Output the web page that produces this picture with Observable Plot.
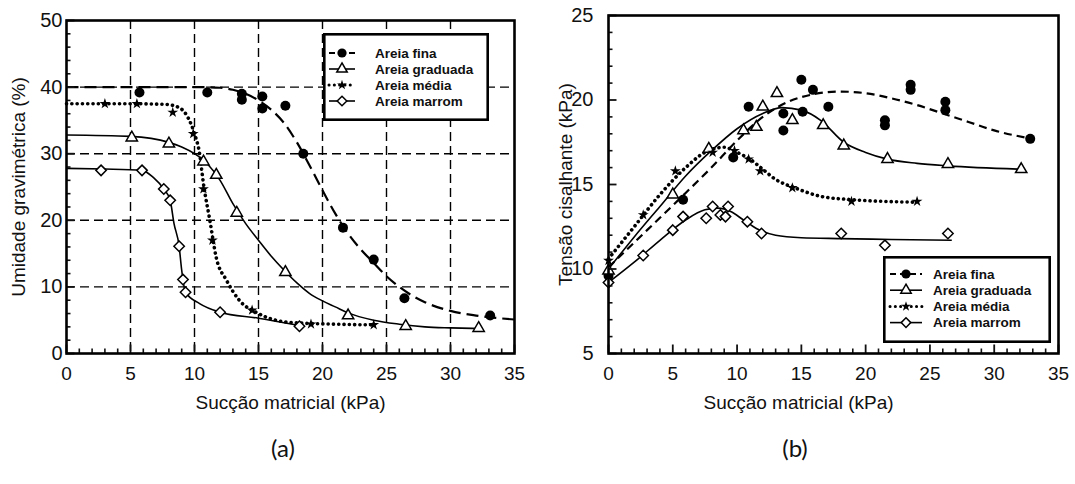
<!DOCTYPE html>
<html>
<head>
<meta charset="utf-8">
<script src="https://cdn.jsdelivr.net/npm/d3@7"></script>
<script src="https://cdn.jsdelivr.net/npm/@observablehq/plot@0.6"></script>
<style>
  body { margin: 0; background: #fff; }
  #wrap { position: relative; width: 1075px; height: 484px; overflow: hidden; background: #fff; }
  .panel { position: absolute; top: 0; }
  .cap { position: absolute; top: 433px; width: 60px; text-align: center; font-family: Lato, "Open Sans", sans-serif; font-size: 24px; color: #111; }
</style>
</head>
<body>
<div id="wrap">
  <div id="pa" class="panel" style="left:0px"></div>
  <div id="pb" class="panel" style="left:537px"></div>
  <div class="cap" style="left:253px">(a)</div>
  <div class="cap" style="left:765px">(b)</div>
</div>
<script>
// ---------------- data ----------------
const names = ["Areia fina", "Areia graduada", "Areia média", "Areia marrom"];
const xTicks = [0, 5, 10, 15, 20, 25, 30, 35];
const xMinor = [1,2,3,4,6,7,8,9,11,12,13,14,16,17,18,19,21,22,23,24,26,27,28,29,31,32,33,34];
const gridXA = [5, 10, 15, 20, 25, 30];
const yTicksA = [0, 10, 20, 30, 40, 50];
const yMinorA = [2,4,6,8,12,14,16,18,22,24,26,28,32,34,36,38,42,44,46,48];
const gridYA = [10, 20, 30, 40];
const yTicksB = [5, 10, 15, 20, 25];
const yMinorB = [6,7,8,9,11,12,13,14,16,17,18,19,21,22,23,24];

// Panel (a): Umidade gravimétrica (%) vs Sucção matricial (kPa)
const aFinaX = [5.7, 11.0, 13.7, 13.7, 15.3, 15.3, 17.1, 18.5, 21.6, 24.0, 26.4, 33.1];
const aFinaY = [39.2, 39.2, 39.0, 38.1, 38.6, 36.8, 37.2, 30.0, 18.9, 14.1, 8.3, 5.7];
const aFinaCurveX = [0, 5, 10, 12, 13, 14, 15, 16, 17, 18, 19, 20, 21, 22, 23, 24, 25, 26, 27, 28, 30, 32, 35];
const aFinaCurveY = [40, 40, 40, 39.9, 39.6, 39.0, 38.0, 36.6, 34.6, 31.7, 28.2, 24.5, 21.0, 18.0, 15.6, 13.6, 11.6, 10.0, 8.7, 7.7, 6.4, 5.7, 5.1];

const aGradX = [5.1, 8.0, 10.7, 11.7, 13.3, 17.1, 22.0, 26.5, 32.2];
const aGradY = [32.4, 31.5, 28.8, 26.8, 21.1, 12.2, 5.7, 4.1, 3.8];
const aGradCurveX = [0, 5, 8, 9, 10, 11, 12, 13, 14, 15, 16, 17, 18, 19, 20, 21, 22, 24, 26, 28, 30, 32.2];
const aGradCurveY = [32.8, 32.6, 31.7, 31.0, 30.0, 28.5, 26.0, 22.5, 19.5, 17.0, 14.6, 12.5, 10.6, 9.0, 7.9, 7.0, 6.1, 5.0, 4.4, 4.0, 3.85, 3.75];

const aMediaX = [3.0, 5.5, 8.3, 9.9, 10.7, 11.4, 14.5, 19.1, 24.0];
const aMediaY = [37.5, 37.5, 36.2, 33.0, 24.7, 17.0, 6.5, 4.4, 4.3];
const aMediaCurveX = [0, 5, 7.8, 8.9, 9.5, 10.0, 10.4, 10.7, 11.2, 11.7, 12.5, 13.5, 15, 17.3, 21, 24];
const aMediaCurveY = [37.5, 37.5, 37.4, 36.8, 35.4, 33.0, 30.0, 25.5, 20.0, 14.4, 11.0, 8.0, 6.0, 4.7, 4.4, 4.3];

const aMarromX = [2.7, 5.9, 7.6, 8.1, 8.8, 9.1, 9.3, 12.0, 18.2];
const aMarromY = [27.5, 27.5, 24.7, 23.0, 16.1, 11.1, 9.2, 6.2, 4.1];
const aMarromCurveX = [0, 3, 5.9, 6.8, 7.6, 8.1, 8.4, 8.8, 9.0, 9.3, 10.4, 12, 15, 18.2];
const aMarromCurveY = [27.8, 27.7, 27.5, 26.4, 24.7, 23.0, 19.5, 16.1, 12.5, 9.2, 7.5, 6.2, 5.3, 4.2];

// Panel (b): Tensão cisalhante (kPa) vs Sucção matricial (kPa)
const bFinaX = [0, 5.8, 9.7, 10.9, 13.6, 13.6, 15.0, 15.1, 15.9, 17.1, 21.5, 21.5, 23.5, 23.5, 26.2, 26.2, 32.8];
const bFinaY = [9.6, 14.1, 16.6, 19.6, 19.2, 18.2, 21.2, 19.3, 20.6, 19.6, 18.8, 18.5, 20.9, 20.6, 19.9, 19.4, 17.7];
const bFinaCurveX = [0, 3, 6, 8, 10, 12, 14, 16, 18, 20, 22, 24, 26, 28, 30, 33];
const bFinaCurveY = [10.1, 12.3, 14.5, 16.0, 17.6, 19.0, 19.9, 20.35, 20.5, 20.4, 20.1, 19.7, 19.2, 18.7, 18.2, 17.7];

const bGradX = [0, 5.0, 7.8, 10.5, 11.5, 12.0, 13.1, 14.3, 16.7, 18.3, 21.7, 26.4, 32.1];
const bGradY = [9.9, 14.4, 17.1, 18.2, 18.4, 19.6, 20.4, 18.8, 18.5, 17.3, 16.5, 16.2, 15.9];
const bGradCurveX = [0, 2, 4, 6, 8, 10, 12, 13.5, 15, 16.5, 18.3, 20, 21.7, 24, 26.4, 32.2];
const bGradCurveY = [10.0, 11.9, 13.7, 15.5, 17.0, 18.3, 19.2, 19.55, 19.4, 18.8, 17.5, 16.9, 16.5, 16.25, 16.1, 15.9];

const bMediaX = [0, 2.7, 5.2, 8.1, 9.8, 10.9, 11.8, 14.3, 18.9, 24.0];
const bMediaY = [10.5, 13.2, 15.8, 16.9, 17.0, 16.5, 15.8, 14.8, 14.0, 14.0];
const bMediaCurveX = [0, 2, 4, 6, 7.5, 9, 10, 11, 12, 13, 14.5, 16.5, 19, 24];
const bMediaCurveY = [10.6, 12.5, 14.4, 16.0, 16.9, 17.2, 16.9, 16.5, 15.9, 15.3, 14.8, 14.3, 14.1, 13.95];

const bMarromX = [0, 2.7, 5.0, 5.8, 7.6, 8.1, 8.7, 9.1, 9.3, 10.8, 11.9, 18.1, 21.5, 26.4];
const bMarromY = [9.2, 10.8, 12.3, 13.1, 13.0, 13.7, 13.2, 13.1, 13.7, 12.8, 12.1, 12.1, 11.4, 12.1];
const bMarromCurveX = [0, 2, 4, 6, 7.5, 8.5, 9.5, 10.5, 11.5, 13, 15, 18, 22, 26.7];
const bMarromCurveY = [9.2, 10.4, 11.7, 12.9, 13.5, 13.6, 13.4, 12.9, 12.4, 12.0, 11.85, 11.8, 11.75, 11.7];

// ---------------- styles ----------------
const sym = {
  "Areia fina":     {symbol: "circle",   r: 5,   fill: "black", stroke: "none", strokeWidth: 0},
  "Areia graduada": {symbol: "triangle", r: 4.2, fill: "white", stroke: "black", strokeWidth: 1.5},
  "Areia média":    {symbol: "star",     r: 3.4, fill: "black", stroke: "none", strokeWidth: 0},
  "Areia marrom":   {symbol: "diamond2", r: 4.7, fill: "white", stroke: "black", strokeWidth: 1.5}
};
const lsty = {
  "Areia fina":     {strokeWidth: 2.2, strokeDasharray: "12,6", strokeLinecap: "butt"},
  "Areia graduada": {strokeWidth: 1.6, strokeDasharray: null, strokeLinecap: "butt"},
  "Areia média":    {strokeWidth: 3.6, strokeDasharray: "0.1,5.2", strokeLinecap: "round"},
  "Areia marrom":   {strokeWidth: 1.6, strokeDasharray: null, strokeLinecap: "butt"}
};
const d3sym = {"Areia fina": d3.symbolCircle, "Areia graduada": d3.symbolTriangle, "Areia média": d3.symbolStar, "Areia marrom": d3.symbolDiamond2};

const pts = (xs, ys) => xs.map((x, i) => ({x, y: ys[i]}));
const sans = "'Liberation Sans', Arial, sans-serif";

function panel(o) {
  const marks = [];
  if (o.gridX) marks.push(Plot.gridX(o.gridX, {stroke: "black", strokeOpacity: 1, strokeWidth: 1.4, strokeDasharray: "9,5"}));
  if (o.gridY) marks.push(Plot.gridY(o.gridY, {stroke: "black", strokeOpacity: 1, strokeWidth: 1.4, strokeDasharray: "9,5"}));
  for (const s of o.series) {
    const ls = lsty[s.name];
    marks.push(Plot.line(pts(s.cx, s.cy), {x: "x", y: "y", curve: "monotone-x", stroke: "black",
      strokeWidth: ls.strokeWidth, strokeDasharray: s.dash || ls.strokeDasharray, strokeLinecap: ls.strokeLinecap}));
  }
  for (const s of o.series) {
    const st = sym[s.name];
    marks.push(Plot.dot(pts(s.px, s.py), {x: "x", y: "y", symbol: st.symbol, r: st.r, fill: st.fill, stroke: st.stroke, strokeWidth: st.strokeWidth}));
  }
  marks.push(
    // inward tick marks (shifted inside the frame by their own length)
    Plot.axisX(xMinor, {anchor: "bottom", tickSize: 4.5, dy: -4.5, fill: "none", label: null, strokeWidth: 1.6}),
    Plot.axisX(xTicks, {anchor: "bottom", tickSize: 8.5, dy: -8.5, fill: "none", label: null, strokeWidth: 1.8}),
    Plot.axisX(xTicks, {anchor: "bottom", tickSize: 0, tickPadding: 13, label: null, fontSize: 19, fontFamily: sans}),
    Plot.axisY(o.yMinor, {anchor: "left", tickSize: 4.5, dx: 4.5, fill: "none", label: null, strokeWidth: 1.6}),
    Plot.axisY(o.yTicks, {anchor: "left", tickSize: 8.5, dx: 8.5, fill: "none", label: null, strokeWidth: 1.8}),
    Plot.axisY(o.yTicks, {anchor: "left", tickSize: 0, tickPadding: o.yPad, label: null, fontSize: 20, fontFamily: sans}),
    Plot.frame({stroke: "black", strokeWidth: 2.6}),
    Plot.text([o.yLabel], {frameAnchor: "left", textAnchor: "middle", rotate: -90, dx: o.yLabelDx, fontSize: 19, fill: "#111", fontFamily: sans}),
    Plot.text(["Sucção matricial (kPa)"], {frameAnchor: "bottom", textAnchor: "middle", dy: 55, dx: o.xLabelDx, fontSize: 19, fill: "#111", fontFamily: sans})
  );
  return Plot.plot({
    width: o.width, height: 420,
    marginLeft: o.ml, marginRight: o.mr, marginTop: o.mt, marginBottom: 67,
    x: {domain: [0, 35]},
    y: {domain: o.yDomain},
    style: {background: "white", color: "#111", overflow: "visible"},
    marks
  });
}

const plotA = panel({
  width: 537, ml: 66, mr: 23, mt: 20, yDomain: [0, 50],
  yTicks: yTicksA, yMinor: yMinorA, gridX: gridXA, gridY: gridYA, yPad: 4,
  yLabel: "Umidade gravimétrica (%)", yLabelDx: -48, xLabelDx: 0,
  series: [
    {name: names[0], px: aFinaX, py: aFinaY, cx: aFinaCurveX, cy: aFinaCurveY},
    {name: names[1], px: aGradX, py: aGradY, cx: aGradCurveX, cy: aGradCurveY},
    {name: names[2], px: aMediaX, py: aMediaY, cx: aMediaCurveX, cy: aMediaCurveY},
    {name: names[3], px: aMarromX, py: aMarromY, cx: aMarromCurveX, cy: aMarromCurveY}
  ]
});
document.getElementById("pa").appendChild(plotA);

const plotB = panel({
  width: 538, ml: 71, mr: 17, mt: 15, yDomain: [5, 25],
  yTicks: yTicksB, yMinor: yMinorB, gridX: null, gridY: null, yPad: 15,
  yLabel: "Tensão cisalhante (kPa)", yLabelDx: -43, xLabelDx: -35,
  series: [
    {name: names[0], px: bFinaX, py: bFinaY, cx: bFinaCurveX, cy: bFinaCurveY, dash: "8,5"},
    {name: names[1], px: bGradX, py: bGradY, cx: bGradCurveX, cy: bGradCurveY},
    {name: names[2], px: bMediaX, py: bMediaY, cx: bMediaCurveX, cy: bMediaCurveY},
    {name: names[3], px: bMarromX, py: bMarromY, cx: bMarromCurveX, cy: bMarromCurveY}
  ]
});
document.getElementById("pb").appendChild(plotB);

// ---------------- legends (drawn inside the plot frames) ----------------
function legend(box) {
  const svg = d3.select("#wrap").append("svg")
    .attr("width", box.w).attr("height", box.h)
    .style("position", "absolute").style("left", box.x + "px").style("top", box.y + "px");
  svg.append("rect").attr("x", 1.3).attr("y", 1.3).attr("width", box.w - 2.6).attr("height", box.h - 2.6)
    .attr("fill", "white").attr("stroke", "black").attr("stroke-width", 2.6);
  names.forEach((n, i) => {
    const y = box.row0 + i * box.step;
    const ls = lsty[n], st = sym[n];
    svg.append("line").attr("x1", box.l0).attr("x2", box.l1).attr("y1", y).attr("y2", y)
      .attr("stroke", "black").attr("stroke-width", Math.min(ls.strokeWidth, 3))
      .attr("stroke-dasharray", n === "Areia fina" ? "6,4" : ls.strokeDasharray)
      .attr("stroke-linecap", ls.strokeLinecap);
    svg.append("path").attr("d", d3.symbol(d3sym[n], Math.PI * st.r * st.r * 0.85)())
      .attr("transform", `translate(${box.mx},${y})`)
      .attr("fill", st.fill).attr("stroke", st.stroke === "none" ? null : st.stroke).attr("stroke-width", st.strokeWidth);
    svg.append("text").attr("x", box.tx).attr("y", y).attr("dy", "0.36em")
      .attr("font-family", sans).attr("font-weight", "bold")
      .attr("font-size", 13.5).attr("fill", "#111").text(n);
  });
}
legend({x: 323, y: 33, w: 166, h: 88, row0: 20, step: 16, l0: 6, l1: 32, mx: 19, tx: 52});
legend({x: 883, y: 256, w: 168, h: 87, row0: 18, step: 16.2, l0: 7, l1: 39, mx: 23, tx: 50});
</script>
</body>
</html>
